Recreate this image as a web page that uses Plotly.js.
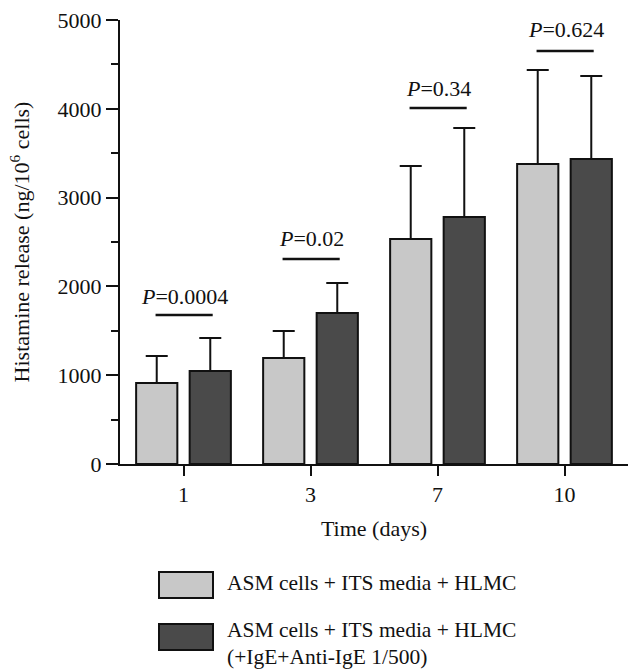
<!DOCTYPE html>
<html>
<head>
<meta charset="utf-8">
<script src="https://cdn.plot.ly/plotly-3.0.1.min.js"></script>
<style>html,body{margin:0;padding:0;background:#fff;}</style>
</head>
<body>
<div id="chart" style="width:630px;height:671px;"></div>
<script>
// ---- data ----
const days = ['1', '3', '7', '10'];
const controlName = 'ASM cells + ITS media + HLMC';
const treatedName = 'ASM cells + ITS media + HLMC';
const treatedNameLine2 = '(+IgE+Anti-IgE 1/500)';
const controlMean = [912, 1194, 2534, 3378];
const controlErr  = [304, 304, 822, 1059];
const treatedMean = [1047, 1700, 2781, 3434];
const treatedErr  = [372, 338, 1003, 935];
const pLabels = ['0.0004', '0.02', '0.34', '0.624'];
const pLineY  = [1678, 2309, 4009, 4651];
const pTextY  = [1890, 2540, 4230, 4890];

// ---- style ----
const FONT = "'Liberation Serif', 'Times New Roman', Times, serif";
const FS = 22;
const LFS = 21.5;
const LIGHT = '#c8c8c8';
const DARK = '#4a4a4a';
const W = 630, H = 671, ML = 120, MR = 2, MT = 20, MB = 207;
const PW = W - ML - MR, PH = H - MT - MB;
const px2x = p => (p - ML) / PW;
const px2y = p => (H - MB - p) / PH;

const bar = (name, y, err, color) => ({
  type: 'bar', name: name, x: days, y: y,
  marker: {color: color, line: {color: '#111', width: 2}},
  error_y: {type: 'data', symmetric: false, array: err, arrayminus: err.map(() => 0),
            color: '#111', thickness: 2, width: 11},
  showlegend: false, hoverinfo: 'skip'
});

const data = [
  bar(controlName, controlMean, controlErr, LIGHT),
  bar(treatedName, treatedMean, treatedErr, DARK)
];

const shapes = [];
const annotations = [];
days.forEach((d, i) => {
  shapes.push({type: 'line', xref: 'x', yref: 'y', x0: i - 0.22, x1: i + 0.23,
               y0: pLineY[i], y1: pLineY[i], line: {color: '#111', width: 2.5}});
  annotations.push({xref: 'x', yref: 'y', x: i + 0.01, y: pTextY[i], showarrow: false,
                    text: '<i>P</i>=' + pLabels[i], font: {family: FONT, size: FS, color: '#111'},
                    xanchor: 'center', yanchor: 'middle'});
});

// legend keys (drawn as boxes + text)
const legendKeys = [
  {color: LIGHT, top: 572, bottom: 598},
  {color: DARK, top: 624, bottom: 650}
];
legendKeys.forEach(k => {
  shapes.push({type: 'rect', xref: 'paper', yref: 'paper', x0: px2x(159), x1: px2x(213),
               y0: px2y(k.bottom), y1: px2y(k.top), fillcolor: k.color,
               line: {color: '#111', width: 2}});
});
const legendTexts = [
  {text: controlName, y: 583},
  {text: treatedName, y: 630},
  {text: treatedNameLine2, y: 657}
];
legendTexts.forEach(t => {
  annotations.push({xref: 'paper', yref: 'paper', x: px2x(226), y: px2y(t.y), showarrow: false,
                    text: t.text, xanchor: 'left', yanchor: 'middle', borderpad: 0,
                    font: {family: FONT, size: LFS, color: '#111'}});
});

const layout = {
  width: W, height: H,
  margin: {l: ML, r: MR, t: MT, b: MB},
  paper_bgcolor: '#fff', plot_bgcolor: '#fff',
  font: {family: FONT, size: FS, color: '#111'},
  barmode: 'group', bargap: 0.157, bargroupgap: 0.23,
  xaxis: {
    type: 'category', range: [-0.5, 3.5],
    showline: true, linecolor: '#111', linewidth: 2,
    ticks: 'outside', ticklen: 10, tickwidth: 2, tickcolor: '#111',
    showgrid: false, zeroline: false,
    tickfont: {family: FONT, size: FS, color: '#111'},
    title: {text: 'Time (days)', font: {family: FONT, size: FS, color: '#111'}, standoff: 14}
  },
  yaxis: {
    range: [0, 5000], dtick: 1000, tick0: 0,
    showline: true, linecolor: '#111', linewidth: 2,
    ticks: 'outside', ticklen: 12, tickwidth: 2, tickcolor: '#111',
    minor: {dtick: 500, ticks: 'outside', ticklen: 7, tickwidth: 2, tickcolor: '#111', showgrid: false},
    showgrid: false, zeroline: false,
    tickfont: {family: FONT, size: FS, color: '#111'},
    title: {text: 'Histamine release (ng/10<sup>6</sup> cells)', font: {family: FONT, size: FS, color: '#111'}, standoff: 22}
  },
  shapes: shapes,
  annotations: annotations
};

Plotly.newPlot('chart', data, layout, {displayModeBar: false, staticPlot: true});
</script>
</body>
</html>
